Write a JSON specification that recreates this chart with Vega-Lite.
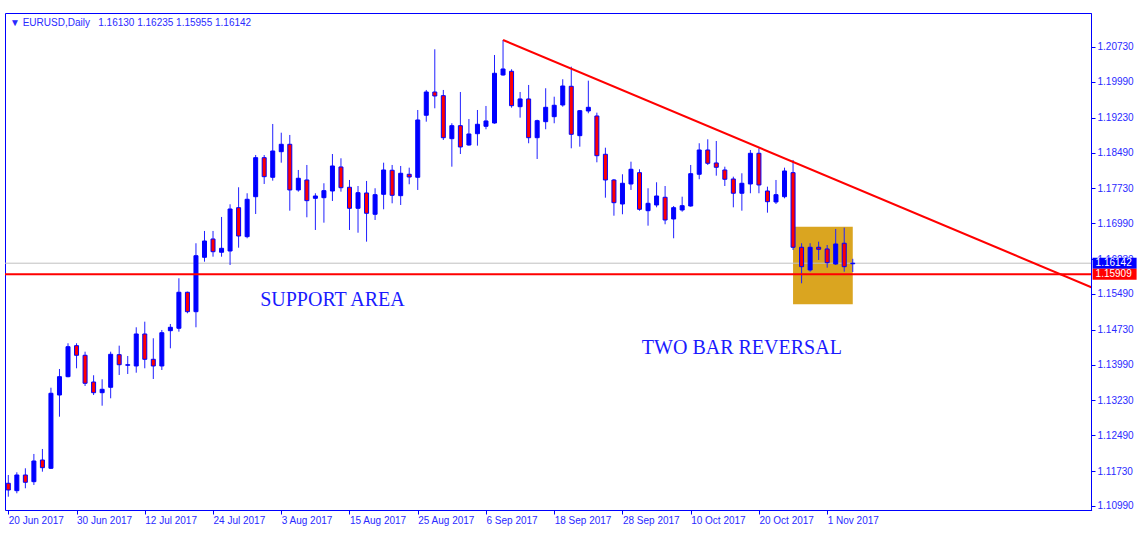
{
  "$schema": "https://vega.github.io/schema/vega-lite/v6.json",
  "width": 1086,
  "height": 497,
  "autosize": {"type": "none"},
  "padding": {"left": 5, "top": 13, "right": 56, "bottom": 35},
  "background": "white",
  "view": {"stroke": "#0000ff", "strokeWidth": 1, "fill": "white"},
  "config": {
    "font": "Liberation Sans",
    "axisY": {"labelOverlap": false, "labelFlush": false, "labelBound": false, "grid": false, "labelFont": "Liberation Sans", "labelFontSize": 10, "labelColor": "#2a2aff", "labelPadding": 2, "tickColor": "#0000ff", "tickSize": 4, "domainColor": "#0000ff"}
  },
  "title": {
    "text": "▼  EURUSD,Daily\u00a0\u00a0 1.16130 1.16235 1.15955 1.16142",
    "anchor": "start",
    "frame": "group",
    "orient": "top",
    "offset": -15,
    "dx": 5,
    "fontSize": 10,
    "font": "Liberation Sans",
    "fontWeight": "normal",
    "color": "#2a2aff"
  },
  "datasets": {
    "candles": [
      {"d":"20 Jun 2017","o":1.11472,"h":1.11648,"l":1.11187,"c":1.11330},
      {"d":"21 Jun 2017","o":1.11315,"h":1.11705,"l":1.11260,"c":1.11648},
      {"d":"22 Jun 2017","o":1.11648,"h":1.11790,"l":1.11366,"c":1.11493},
      {"d":"23 Jun 2017","o":1.11506,"h":1.12094,"l":1.11436,"c":1.11945},
      {"d":"26 Jun 2017","o":1.11966,"h":1.12200,"l":1.11718,"c":1.11803},
      {"d":"27 Jun 2017","o":1.11790,"h":1.13500,"l":1.11775,"c":1.13382},
      {"d":"28 Jun 2017","o":1.13345,"h":1.13897,"l":1.12885,"c":1.13734},
      {"d":"29 Jun 2017","o":1.13734,"h":1.14443,"l":1.13721,"c":1.14370},
      {"d":"30 Jun 2017","o":1.14392,"h":1.14443,"l":1.13912,"c":1.14188},
      {"d":"3 Jul 2017","o":1.14188,"h":1.14264,"l":1.13536,"c":1.13594},
      {"d":"4 Jul 2017","o":1.13621,"h":1.13764,"l":1.13345,"c":1.13394},
      {"d":"5 Jul 2017","o":1.13394,"h":1.13679,"l":1.13118,"c":1.13466},
      {"d":"6 Jul 2017","o":1.13509,"h":1.14264,"l":1.13275,"c":1.14209},
      {"d":"7 Jul 2017","o":1.14201,"h":1.14392,"l":1.13770,"c":1.13988},
      {"d":"10 Jul 2017","o":1.13976,"h":1.14173,"l":1.13791,"c":1.13988},
      {"d":"11 Jul 2017","o":1.13961,"h":1.14782,"l":1.13819,"c":1.14640},
      {"d":"12 Jul 2017","o":1.14640,"h":1.14901,"l":1.13912,"c":1.14103},
      {"d":"13 Jul 2017","o":1.14103,"h":1.14549,"l":1.13685,"c":1.13961},
      {"d":"14 Jul 2017","o":1.13961,"h":1.14725,"l":1.13876,"c":1.14667},
      {"d":"17 Jul 2017","o":1.14710,"h":1.14852,"l":1.14336,"c":1.14782},
      {"d":"18 Jul 2017","o":1.14761,"h":1.15822,"l":1.14689,"c":1.15525},
      {"d":"19 Jul 2017","o":1.15525,"h":1.15538,"l":1.15079,"c":1.15113},
      {"d":"20 Jul 2017","o":1.15113,"h":1.16565,"l":1.14782,"c":1.16301},
      {"d":"21 Jul 2017","o":1.16267,"h":1.16826,"l":1.16174,"c":1.16613},
      {"d":"24 Jul 2017","o":1.16656,"h":1.16826,"l":1.16280,"c":1.16386},
      {"d":"25 Jul 2017","o":1.16374,"h":1.17123,"l":1.16280,"c":1.16458},
      {"d":"26 Jul 2017","o":1.16401,"h":1.17392,"l":1.16104,"c":1.17292},
      {"d":"27 Jul 2017","o":1.17320,"h":1.17753,"l":1.16471,"c":1.16719},
      {"d":"28 Jul 2017","o":1.16705,"h":1.17626,"l":1.16671,"c":1.17498},
      {"d":"31 Jul 2017","o":1.17553,"h":1.18438,"l":1.17186,"c":1.18381},
      {"d":"1 Aug 2017","o":1.18381,"h":1.18438,"l":1.17823,"c":1.17978},
      {"d":"2 Aug 2017","o":1.17965,"h":1.19096,"l":1.17893,"c":1.18523},
      {"d":"3 Aug 2017","o":1.18508,"h":1.18911,"l":1.18275,"c":1.18665},
      {"d":"4 Aug 2017","o":1.18665,"h":1.18863,"l":1.17256,"c":1.17696},
      {"d":"7 Aug 2017","o":1.17696,"h":1.18120,"l":1.17660,"c":1.17944},
      {"d":"8 Aug 2017","o":1.17908,"h":1.18226,"l":1.17116,"c":1.17469},
      {"d":"9 Aug 2017","o":1.17519,"h":1.17626,"l":1.16847,"c":1.17568},
      {"d":"10 Aug 2017","o":1.17532,"h":1.17838,"l":1.17002,"c":1.17681},
      {"d":"11 Aug 2017","o":1.17674,"h":1.18459,"l":1.17462,"c":1.18205},
      {"d":"14 Aug 2017","o":1.18184,"h":1.18368,"l":1.17660,"c":1.17744},
      {"d":"15 Aug 2017","o":1.17753,"h":1.17908,"l":1.16847,"c":1.17307},
      {"d":"16 Aug 2017","o":1.17307,"h":1.17780,"l":1.16789,"c":1.17638},
      {"d":"17 Aug 2017","o":1.17632,"h":1.17887,"l":1.16599,"c":1.17201},
      {"d":"18 Aug 2017","o":1.17180,"h":1.17732,"l":1.17059,"c":1.17596},
      {"d":"21 Aug 2017","o":1.17604,"h":1.18275,"l":1.17286,"c":1.18120},
      {"d":"22 Aug 2017","o":1.18114,"h":1.18226,"l":1.17413,"c":1.17583},
      {"d":"23 Aug 2017","o":1.17575,"h":1.18205,"l":1.17377,"c":1.18050},
      {"d":"24 Aug 2017","o":1.18029,"h":1.18169,"l":1.17817,"c":1.17971},
      {"d":"25 Aug 2017","o":1.17965,"h":1.19393,"l":1.17696,"c":1.19181},
      {"d":"28 Aug 2017","o":1.19281,"h":1.19818,"l":1.19145,"c":1.19775},
      {"d":"29 Aug 2017","o":1.19775,"h":1.20681,"l":1.19429,"c":1.19690},
      {"d":"30 Aug 2017","o":1.19697,"h":1.19818,"l":1.18757,"c":1.18805},
      {"d":"31 Aug 2017","o":1.18784,"h":1.19111,"l":1.18190,"c":1.19060},
      {"d":"1 Sep 2017","o":1.19060,"h":1.19775,"l":1.18459,"c":1.18608},
      {"d":"4 Sep 2017","o":1.18650,"h":1.19202,"l":1.18636,"c":1.18884},
      {"d":"5 Sep 2017","o":1.18890,"h":1.19393,"l":1.18636,"c":1.19090},
      {"d":"6 Sep 2017","o":1.19047,"h":1.19478,"l":1.18984,"c":1.19160},
      {"d":"7 Sep 2017","o":1.19117,"h":1.20560,"l":1.19102,"c":1.20172},
      {"d":"8 Sep 2017","o":1.20136,"h":1.20879,"l":1.20121,"c":1.20263},
      {"d":"11 Sep 2017","o":1.20214,"h":1.20257,"l":1.19442,"c":1.19484},
      {"d":"12 Sep 2017","o":1.19463,"h":1.19775,"l":1.19230,"c":1.19627},
      {"d":"13 Sep 2017","o":1.19627,"h":1.19924,"l":1.18687,"c":1.18805},
      {"d":"14 Sep 2017","o":1.18805,"h":1.19187,"l":1.18353,"c":1.19166},
      {"d":"15 Sep 2017","o":1.19145,"h":1.19854,"l":1.18984,"c":1.19450},
      {"d":"18 Sep 2017","o":1.19251,"h":1.19675,"l":1.19111,"c":1.19493},
      {"d":"19 Sep 2017","o":1.19499,"h":1.20045,"l":1.19463,"c":1.19902},
      {"d":"20 Sep 2017","o":1.19896,"h":1.20312,"l":1.18580,"c":1.18877},
      {"d":"21 Sep 2017","o":1.18848,"h":1.19393,"l":1.18614,"c":1.19378},
      {"d":"22 Sep 2017","o":1.19372,"h":1.20015,"l":1.19323,"c":1.19450},
      {"d":"25 Sep 2017","o":1.19266,"h":1.19336,"l":1.18283,"c":1.18423},
      {"d":"26 Sep 2017","o":1.18453,"h":1.18593,"l":1.17532,"c":1.17908},
      {"d":"27 Sep 2017","o":1.17908,"h":1.17929,"l":1.17150,"c":1.17426},
      {"d":"28 Sep 2017","o":1.17398,"h":1.18029,"l":1.17180,"c":1.17838},
      {"d":"29 Sep 2017","o":1.17823,"h":1.18296,"l":1.17696,"c":1.18135},
      {"d":"2 Oct 2017","o":1.18063,"h":1.18135,"l":1.17256,"c":1.17286},
      {"d":"3 Oct 2017","o":1.17256,"h":1.17732,"l":1.16938,"c":1.17413},
      {"d":"4 Oct 2017","o":1.17377,"h":1.17859,"l":1.17328,"c":1.17568},
      {"d":"5 Oct 2017","o":1.17541,"h":1.17780,"l":1.16968,"c":1.17059},
      {"d":"6 Oct 2017","o":1.17080,"h":1.17356,"l":1.16671,"c":1.17320},
      {"d":"9 Oct 2017","o":1.17271,"h":1.17553,"l":1.17235,"c":1.17362},
      {"d":"10 Oct 2017","o":1.17356,"h":1.18226,"l":1.17341,"c":1.18041},
      {"d":"11 Oct 2017","o":1.18029,"h":1.18687,"l":1.17923,"c":1.18544},
      {"d":"12 Oct 2017","o":1.18544,"h":1.18771,"l":1.18226,"c":1.18262},
      {"d":"13 Oct 2017","o":1.18269,"h":1.18735,"l":1.17999,"c":1.18177},
      {"d":"16 Oct 2017","o":1.18120,"h":1.18190,"l":1.17780,"c":1.17923},
      {"d":"17 Oct 2017","o":1.17929,"h":1.17978,"l":1.17328,"c":1.17626},
      {"d":"18 Oct 2017","o":1.17626,"h":1.18050,"l":1.17256,"c":1.17838},
      {"d":"19 Oct 2017","o":1.17823,"h":1.18544,"l":1.17626,"c":1.18474},
      {"d":"20 Oct 2017","o":1.18474,"h":1.18580,"l":1.17626,"c":1.17802},
      {"d":"23 Oct 2017","o":1.17674,"h":1.17766,"l":1.17214,"c":1.17447},
      {"d":"24 Oct 2017","o":1.17441,"h":1.17908,"l":1.17398,"c":1.17596},
      {"d":"25 Oct 2017","o":1.17553,"h":1.18169,"l":1.17519,"c":1.18099},
      {"d":"26 Oct 2017","o":1.18063,"h":1.18332,"l":1.16422,"c":1.16480},
      {"d":"27 Oct 2017","o":1.16480,"h":1.16565,"l":1.15716,"c":1.16068},
      {"d":"30 Oct 2017","o":1.15998,"h":1.16565,"l":1.15962,"c":1.16480},
      {"d":"31 Oct 2017","o":1.16480,"h":1.16599,"l":1.16210,"c":1.16437},
      {"d":"1 Nov 2017","o":1.16444,"h":1.16528,"l":1.16047,"c":1.16153},
      {"d":"2 Nov 2017","o":1.16125,"h":1.16868,"l":1.16104,"c":1.16550},
      {"d":"3 Nov 2017","o":1.16565,"h":1.16896,"l":1.15962,"c":1.16068},
      {"d":"6 Nov 2017","o":1.16130,"h":1.16235,"l":1.15955,"c":1.16142}
    ],
    "trend": [
      {"d": "8 Sep 2017", "p": 1.20879},
      {"d": "14 Dec 2017", "p": 1.15629}
    ],
    "zone": [
      {"d": "26 Oct 2017", "d2": "6 Nov 2017", "lo": 1.15270, "hi": 1.16917}
    ],
    "notes": [
      {"d": "11 Aug 2017", "p": 1.15361, "label": "SUPPORT AREA"},
      {"d": "18 Oct 2017", "p": 1.14343, "label": "TWO BAR REVERSAL"}
    ],
    "levels": [
      {"kind": "Bid", "p": 1.16142},
      {"kind": "Support", "p": 1.15909}
    ]
  },
  "encoding": {
    "x": {
      "field": "d",
      "type": "ordinal",
      "title": null,
      "scale": {
        "type": "point",
        "padding": 0,
        "range": [3.3, 1086.6],
        "domain": ["20 Jun 2017","21 Jun 2017","22 Jun 2017","23 Jun 2017","26 Jun 2017","27 Jun 2017","28 Jun 2017","29 Jun 2017","30 Jun 2017",
          "3 Jul 2017","4 Jul 2017","5 Jul 2017","6 Jul 2017","7 Jul 2017","10 Jul 2017","11 Jul 2017","12 Jul 2017","13 Jul 2017","14 Jul 2017","17 Jul 2017","18 Jul 2017","19 Jul 2017","20 Jul 2017","21 Jul 2017","24 Jul 2017","25 Jul 2017","26 Jul 2017","27 Jul 2017","28 Jul 2017","31 Jul 2017",
          "1 Aug 2017","2 Aug 2017","3 Aug 2017","4 Aug 2017","7 Aug 2017","8 Aug 2017","9 Aug 2017","10 Aug 2017","11 Aug 2017","14 Aug 2017","15 Aug 2017","16 Aug 2017","17 Aug 2017","18 Aug 2017","21 Aug 2017","22 Aug 2017","23 Aug 2017","24 Aug 2017","25 Aug 2017","28 Aug 2017","29 Aug 2017","30 Aug 2017","31 Aug 2017",
          "1 Sep 2017","4 Sep 2017","5 Sep 2017","6 Sep 2017","7 Sep 2017","8 Sep 2017","11 Sep 2017","12 Sep 2017","13 Sep 2017","14 Sep 2017","15 Sep 2017","18 Sep 2017","19 Sep 2017","20 Sep 2017","21 Sep 2017","22 Sep 2017","25 Sep 2017","26 Sep 2017","27 Sep 2017","28 Sep 2017","29 Sep 2017",
          "2 Oct 2017","3 Oct 2017","4 Oct 2017","5 Oct 2017","6 Oct 2017","9 Oct 2017","10 Oct 2017","11 Oct 2017","12 Oct 2017","13 Oct 2017","16 Oct 2017","17 Oct 2017","18 Oct 2017","19 Oct 2017","20 Oct 2017","23 Oct 2017","24 Oct 2017","25 Oct 2017","26 Oct 2017","27 Oct 2017","30 Oct 2017","31 Oct 2017",
          "1 Nov 2017","2 Nov 2017","3 Nov 2017","6 Nov 2017","7 Nov 2017","8 Nov 2017","9 Nov 2017","10 Nov 2017","13 Nov 2017","14 Nov 2017","15 Nov 2017","16 Nov 2017","17 Nov 2017","20 Nov 2017","21 Nov 2017","22 Nov 2017","23 Nov 2017","24 Nov 2017","27 Nov 2017","28 Nov 2017","29 Nov 2017","30 Nov 2017",
          "1 Dec 2017","4 Dec 2017","5 Dec 2017","6 Dec 2017","7 Dec 2017","8 Dec 2017","11 Dec 2017","12 Dec 2017","13 Dec 2017","14 Dec 2017"]
      },
      "axis": {
        "values": ["20 Jun 2017","30 Jun 2017","12 Jul 2017","24 Jul 2017","3 Aug 2017","15 Aug 2017","25 Aug 2017","6 Sep 2017","18 Sep 2017","28 Sep 2017","10 Oct 2017","20 Oct 2017","1 Nov 2017"],
        "title": null,
        "grid": false,
        "labelAngle": 0,
        "labelAlign": "left",
        "labelBaseline": "top",
        "labelPadding": 1,
        "labelFont": "Liberation Sans",
        "labelFontSize": 10,
        "labelColor": "#2a2aff",
        "labelOverlap": false,
        "labelFlush": false,
        "labelBound": false,
        "tickColor": "#0000ff",
        "tickSize": 4,
        "domainColor": "#0000ff"
      }
    }
  },
  "layer": [
    {
      "data": {"name": "zone"},
      "mark": {"type": "rect", "color": "#daa520"},
      "encoding": {
        "x2": {"field": "d2"},
        "y": {"field": "lo", "type": "quantitative", "title": null,
              "scale": {"domain": [1.10905, 1.21451], "zero": false, "nice": false},
              "axis": {"orient": "right", "title": null, "format": ".5f", "values": [1.10990, 1.11730, 1.12490, 1.13230, 1.13990, 1.14730, 1.15490, 1.16230, 1.16990, 1.17730, 1.18490, 1.19230, 1.19990, 1.20730]}},
        "y2": {"field": "hi"}
      }
    },
    {
      "data": {"name": "levels"},
      "transform": [{"filter": "datum.kind === 'Bid'"}],
      "mark": {"type": "rule", "color": "#c0c0c0", "strokeWidth": 1, "xOffset": -4, "clip": true},
      "encoding": {
        "x": {"datum": "20 Jun 2017", "type": "ordinal"},
        "x2": {"datum": "14 Dec 2017"},
        "y": {"field": "p", "type": "quantitative", "title": null, "scale": {"domain": [1.10905, 1.21451], "zero": false, "nice": false},
              "axis": {"orient": "right", "title": null, "format": ".5f", "values": [1.10990, 1.11730, 1.12490, 1.13230, 1.13990, 1.14730, 1.15490, 1.16230, 1.16990, 1.17730, 1.18490, 1.19230, 1.19990, 1.20730]}}
      }
    },
    {
      "data": {"name": "candles"},
      "mark": {"type": "rule", "color": "#2020ff", "strokeWidth": 1},
      "encoding": {
        "y": {"field": "l", "type": "quantitative", "title": null, "scale": {"domain": [1.10905, 1.21451], "zero": false, "nice": false},
              "axis": {"orient": "right", "title": null, "format": ".5f", "values": [1.10990, 1.11730, 1.12490, 1.13230, 1.13990, 1.14730, 1.15490, 1.16230, 1.16990, 1.17730, 1.18490, 1.19230, 1.19990, 1.20730]}},
        "y2": {"field": "h"}
      }
    },
    {
      "data": {"name": "candles"},
      "mark": {"type": "bar", "size": 4, "stroke": "#0000ff", "strokeWidth": 1},
      "encoding": {
        "y": {"field": "o", "type": "quantitative", "title": null, "scale": {"domain": [1.10905, 1.21451], "zero": false, "nice": false},
              "axis": {"orient": "right", "title": null, "format": ".5f", "values": [1.10990, 1.11730, 1.12490, 1.13230, 1.13990, 1.14730, 1.15490, 1.16230, 1.16990, 1.17730, 1.18490, 1.19230, 1.19990, 1.20730]}},
        "y2": {"field": "c"},
        "fill": {"condition": {"test": "datum.c >= datum.o", "value": "#0000ff"}, "value": "#ff0000"}
      }
    },
    {
      "data": {"name": "levels"},
      "transform": [{"filter": "datum.kind === 'Support'"}],
      "mark": {"type": "rule", "color": "#ff0000", "strokeWidth": 2, "xOffset": -4, "clip": true},
      "encoding": {
        "x": {"datum": "20 Jun 2017", "type": "ordinal"},
        "x2": {"datum": "14 Dec 2017"},
        "y": {"field": "p", "type": "quantitative", "title": null, "scale": {"domain": [1.10905, 1.21451], "zero": false, "nice": false},
              "axis": {"orient": "right", "title": null, "format": ".5f", "values": [1.10990, 1.11730, 1.12490, 1.13230, 1.13990, 1.14730, 1.15490, 1.16230, 1.16990, 1.17730, 1.18490, 1.19230, 1.19990, 1.20730]}}
      }
    },
    {
      "data": {"name": "trend"},
      "mark": {"type": "line", "color": "#ff0000", "strokeWidth": 2, "clip": true},
      "encoding": {
        "y": {"field": "p", "type": "quantitative", "title": null, "scale": {"domain": [1.10905, 1.21451], "zero": false, "nice": false},
              "axis": {"orient": "right", "title": null, "format": ".5f", "values": [1.10990, 1.11730, 1.12490, 1.13230, 1.13990, 1.14730, 1.15490, 1.16230, 1.16990, 1.17730, 1.18490, 1.19230, 1.19990, 1.20730]}}
      }
    },
    {
      "data": {"name": "notes"},
      "mark": {"type": "text", "font": "Liberation Serif", "fontSize": 20, "color": "#1a1aff", "align": "center", "baseline": "middle"},
      "encoding": {
        "y": {"field": "p", "type": "quantitative", "title": null, "scale": {"domain": [1.10905, 1.21451], "zero": false, "nice": false},
              "axis": {"orient": "right", "title": null, "format": ".5f", "values": [1.10990, 1.11730, 1.12490, 1.13230, 1.13990, 1.14730, 1.15490, 1.16230, 1.16990, 1.17730, 1.18490, 1.19230, 1.19990, 1.20730]}},
        "text": {"field": "label"}
      }
    },
    {
      "data": {"name": "levels"},
      "mark": {"type": "rect", "clip": false, "xOffset": 1, "x2Offset": 45, "yOffset": -5.5, "y2Offset": 5.5},
      "encoding": {
        "x": {"datum": "14 Dec 2017", "type": "ordinal"},
        "x2": {"datum": "14 Dec 2017"},
        "y": {"field": "p", "type": "quantitative", "title": null, "scale": {"domain": [1.10905, 1.21451], "zero": false, "nice": false},
              "axis": {"orient": "right", "title": null, "format": ".5f", "values": [1.10990, 1.11730, 1.12490, 1.13230, 1.13990, 1.14730, 1.15490, 1.16230, 1.16990, 1.17730, 1.18490, 1.19230, 1.19990, 1.20730]}},
        "y2": {"field": "p"},
        "color": {"condition": {"test": "datum.kind === 'Bid'", "value": "#0000ff"}, "value": "#ff0000"}
      }
    },
    {
      "data": {"name": "levels"},
      "mark": {"type": "text", "clip": false, "align": "left", "baseline": "middle", "dx": 4, "color": "white", "font": "Liberation Sans", "fontSize": 10},
      "encoding": {
        "x": {"datum": "14 Dec 2017", "type": "ordinal"},
        "y": {"field": "p", "type": "quantitative", "title": null, "scale": {"domain": [1.10905, 1.21451], "zero": false, "nice": false},
              "axis": {"orient": "right", "title": null, "format": ".5f", "values": [1.10990, 1.11730, 1.12490, 1.13230, 1.13990, 1.14730, 1.15490, 1.16230, 1.16990, 1.17730, 1.18490, 1.19230, 1.19990, 1.20730]}},
        "text": {"field": "p", "type": "quantitative", "format": ".5f"}
      }
    }
  ]
}
